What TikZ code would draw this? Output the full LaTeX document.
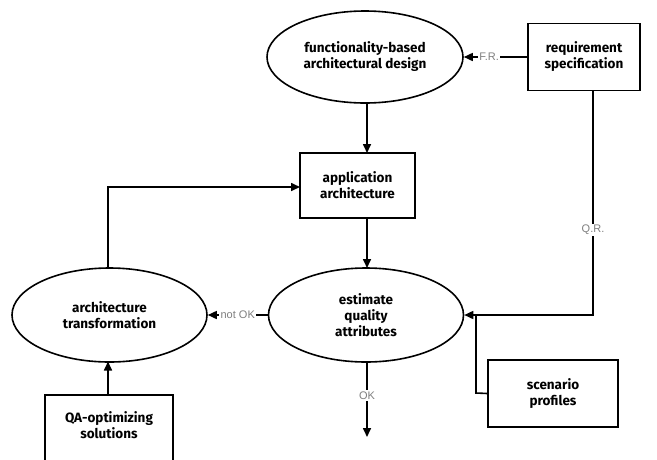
\documentclass[tikz,border=0pt]{standalone}
\usepackage{fontspec}
\setmainfont{Fira Sans}
\newfontfamily\lblfont{Liberation Sans}
\usetikzlibrary{arrows.meta,shapes.geometric}
\begin{document}
\begin{tikzpicture}[x=1pt,y=-1pt,
  line width=1.6pt,
  arr/.style={-{Triangle[length=9pt,width=8pt]}},
  txt/.style={align=center,font=\fontsize{13.5}{16}\selectfont\bfseries,inner sep=0pt},
  ell/.style={draw,ellipse,minimum width=#1,txt},
  box/.style={draw,rectangle,txt},
  lbl/.style={fill=white,text=gray,font=\lblfont\fontsize{11}{13}\selectfont,inner sep=1.5pt}]
\useasboundingbox (0,0) rectangle (657,459);
\node[ell=196pt,minimum height=92pt] (fbad) at (365,57) {functionality-based\\architectural design};
\node[box,minimum width=112pt,minimum height=67pt] (req) at (584,57) {requirement\\specification};
\node[box,minimum width=115pt,minimum height=65pt] (app) at (357.5,185.5) {application\\architecture};
\node[ell=195pt,minimum height=94pt] (est) at (366,315) {estimate\\quality\\attributes};
\node[ell=195pt,minimum height=94pt] (trans) at (109.5,315) {architecture\\transformation};
\node[box,minimum width=130pt,minimum height=67pt] (scen) at (553,393.5) {scenario\\profiles};
\draw (45,470) |- (173,395) -- (173,470);
\node[txt] (qa) at (109,425) {QA-optimizing\\solutions};
\coordinate (qatop) at (108,395);
\coordinate (okend) at (367,437);
\coordinate (qrtop) at (593,90.5);
\coordinate (qrturn) at (593,315);
\coordinate (scturn) at (476,393);
\coordinate (fbadbot) at (367,103);
\coordinate (apptop) at (367,153);
\coordinate (appbot) at (367,218);
\coordinate (esttop) at (367,268);
\coordinate (estbot) at (367,362);
\coordinate (transtop) at (108,268.5);
\coordinate (transbot) at (108,361.5);
\coordinate (appleft) at (300,187);
% connectors
\draw[arr] (req.west) -- (fbad.east) node[lbl,pos=0.6] {F.R.};
\draw[arr] (fbadbot) -- (apptop);
\draw[arr] (appbot) -- (esttop);
\draw[arr] (qrtop) -- (qrturn) -- (est.east);
\node[lbl] (qr) at (593,230) {Q.R.};
\draw (scen.west) -- (scturn) -- (scturn |- est.east);
\draw[arr] (est.west) -- (trans.east) node[lbl,pos=0.5] {not OK};
\draw[arr] (transtop) |- (appleft);
\draw[arr] (qatop) -- (transbot);
\draw[arr] (estbot) -- (okend) node[lbl,pos=0.45] {OK};
\end{tikzpicture}
\end{document}
